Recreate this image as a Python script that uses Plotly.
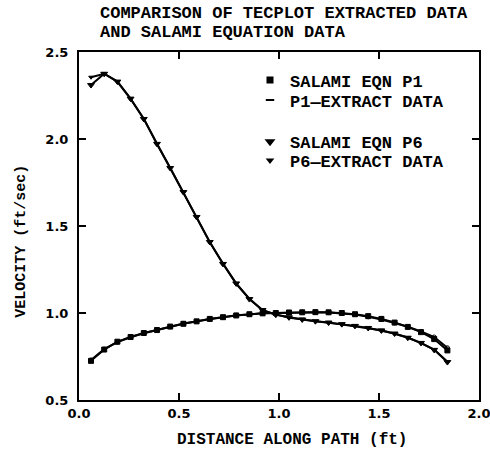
import plotly.graph_objects as go

# ---- data ----
x_pts = [0.06, 0.126, 0.192, 0.258, 0.324, 0.39, 0.456, 0.522, 0.588, 0.654,
         0.72, 0.786, 0.852, 0.918, 0.984, 1.05, 1.116, 1.182, 1.248, 1.314,
         1.38, 1.446, 1.512, 1.578, 1.644, 1.71, 1.776, 1.842]

p1_eqn = [0.725, 0.79, 0.835, 0.862, 0.885, 0.902, 0.922, 0.938, 0.952, 0.966,
          0.976, 0.986, 0.993, 0.998, 1.0, 1.003, 1.004, 1.005, 1.004, 1.0,
          0.993, 0.982, 0.966, 0.945, 0.92, 0.89, 0.85, 0.785]
p1_ext = [0.73, 0.792, 0.832, 0.864, 0.884, 0.904, 0.921, 0.94, 0.951, 0.967,
          0.975, 0.987, 0.992, 0.999, 1.0, 1.002, 1.005, 1.004, 1.003, 0.999,
          0.991, 0.978, 0.963, 0.943, 0.921, 0.894, 0.862, 0.80]

p6_eqn = [2.31, 2.375, 2.33, 2.232, 2.115, 1.972, 1.833, 1.695, 1.552, 1.408,
          1.282, 1.17, 1.08, 1.017, 0.99, 0.975, 0.963, 0.953, 0.945, 0.936,
          0.926, 0.914, 0.9, 0.882, 0.858, 0.828, 0.788, 0.718]
p6_ext = [2.355, 2.375, 2.33, 2.23, 2.117, 1.97, 1.835, 1.693, 1.554, 1.406,
          1.284, 1.168, 1.082, 1.015, 0.992, 0.973, 0.964, 0.952, 0.946, 0.935,
          0.927, 0.913, 0.901, 0.881, 0.859, 0.827, 0.79, 0.72]

x_ticks = [0.0, 0.5, 1.0, 1.5, 2.0]
x_tick_labels = ["0.0", "0.5", "1.0", "1.5", "2.0"]
y_ticks = [0.5, 1.0, 1.5, 2.0, 2.5]
y_tick_labels = ["0.5", "1.0", "1.5", "2.0", "2.5"]

title_lines = ["COMPARISON OF TECPLOT EXTRACTED DATA", "AND SALAMI EQUATION DATA"]
names = ["SALAMI EQN P1", "P1\u2014EXTRACT DATA", "SALAMI EQN P6", "P6\u2014EXTRACT DATA"]
x_title = "DISTANCE ALONG PATH (ft)"
y_title = "VELOCITY (ft/sec)"

BLACK = "#000000"
MONO = "Liberation Mono"
SANS = "DejaVu Sans"

fig = go.Figure()

series = [
    (p1_eqn, "square", 5),
    (p1_ext, "circle-open", 4),
    (p6_eqn, "triangle-down", 6),
    (p6_ext, "triangle-down", 4),
]
for (ys, sym, sz), nm in zip(series, names):
    fig.add_trace(go.Scatter(
        x=x_pts, y=ys, mode="lines+markers", name=nm, showlegend=False,
        line=dict(color=BLACK, width=2),
        marker=dict(symbol=sym, size=sz, color=BLACK, line=dict(color=BLACK, width=1)),
    ))

# legend-only entries (symbol only, as in the reference), one legend per row
legend_ids = ["legend", "legend2", "legend3", "legend4"]
legend_syms = [("square", 5), ("line-ew-open", 6), ("triangle-down", 6), ("triangle-down", 4)]
for (sym, sz), lg, nm in zip(legend_syms, legend_ids, names):
    fig.add_trace(go.Scatter(
        x=[None], y=[None], mode="markers", name=nm, legend=lg,
        marker=dict(symbol=sym, size=sz, color=BLACK, line=dict(color=BLACK, width=2)),
    ))

axis_common = dict(
    showline=True, linecolor=BLACK, linewidth=2, mirror="ticks",
    ticks="inside", ticklen=7, tickwidth=2, tickcolor=BLACK,
    showgrid=False, zeroline=False, automargin=False, ticklabeloverflow="allow",
    tickfont=dict(family=SANS, size=13, color=BLACK, weight="bold"),
)

legend_common = dict(xanchor="left", yanchor="middle", bgcolor="rgba(0,0,0,0)",
                     itemwidth=30,
                     font=dict(family=MONO, size=17, color=BLACK, weight="bold"))
legend_rows_y = [0.918, 0.861, 0.741, 0.687]

layout_legends = {lg: dict(x=0.4275, y=yy, **legend_common)
                  for lg, yy in zip(legend_ids, legend_rows_y)}

fig.update_layout(
    width=490, height=451,
    margin=dict(l=79, r=11, t=52, b=51),
    paper_bgcolor="white", plot_bgcolor="white",
    xaxis=dict(range=[0, 2.0], tickvals=x_ticks, ticktext=x_tick_labels, **axis_common),
    yaxis=dict(range=[0.5, 2.5], tickvals=y_ticks, ticktext=y_tick_labels,
               ticklabelstandoff=6, **axis_common),
    showlegend=True,
    **layout_legends,
)

fig.add_annotation(
    text=x_title, xref="paper", yref="paper", x=0.5325, y=-0.115,
    xanchor="center", yanchor="middle", showarrow=False,
    font=dict(family=MONO, size=16, color=BLACK, weight="bold"),
)
fig.add_annotation(
    text=y_title, xref="paper", yref="paper", x=-0.1425, y=0.455,
    xanchor="center", yanchor="middle", textangle=-90, showarrow=False,
    font=dict(family=MONO, size=15, color=BLACK, weight="bold"),
)

title_y = [1.1092, 1.0546]
for line, yy in zip(title_lines, title_y):
    fig.add_annotation(
        text=line, xref="paper", yref="paper", x=0.0475, y=yy,
        xanchor="left", yanchor="middle", showarrow=False,
        font=dict(family=MONO, size=17, color=BLACK, weight="bold"),
    )

fig.write_html("out.html")
